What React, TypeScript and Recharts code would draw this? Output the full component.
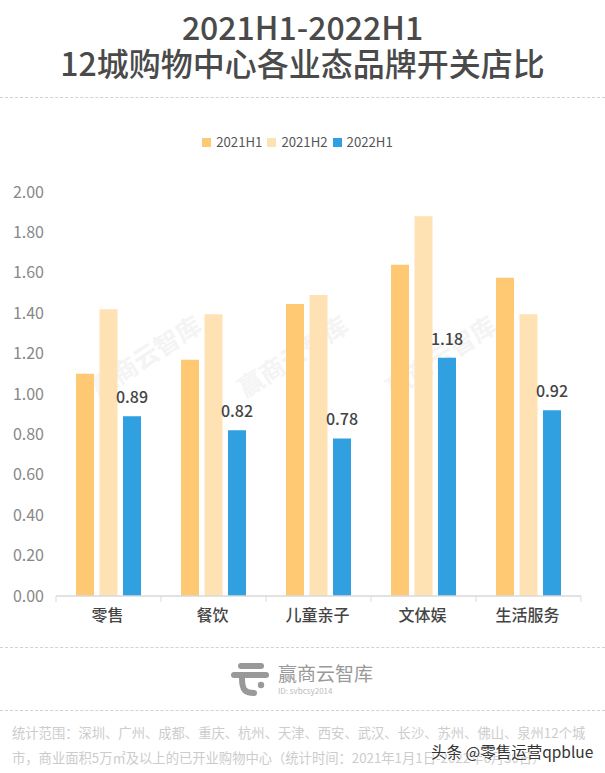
import React from 'react';
import { BarChart, Bar, XAxis, YAxis, Legend, LabelList } from 'recharts';

const categories = ['零售', '餐饮', '儿童亲子', '文体娱', '生活服务'];
const h1_2021 = [1.1, 1.17, 1.445, 1.64, 1.575];
const h2_2021 = [1.42, 1.395, 1.49, 1.88, 1.395];
const h1_2022 = [0.89, 0.82, 0.78, 1.18, 0.92];
const yTicks = [0, 0.2, 0.4, 0.6, 0.8, 1, 1.2, 1.4, 1.6, 1.8, 2];
const watermarks = [145, 292, 440];
const footLine1 = '统计范围\uFF1A深圳、广州、成都、重庆、杭州、天津、西安、武汉、长沙、苏州、佛山、泉州12个城';
const footLine2 = '市\uFF0C商业面积5万㎡及以上的已开业购物中心\uFF08统计时间\uFF1A2021年1月1日-2022年6月30日\uFF09';

const data = categories.map((name, i) => ({
  name,
  a: h1_2021[i],
  b: h2_2021[i],
  c: h1_2022[i],
}));

const font = '"Noto Sans CJK SC", "Noto Sans", sans-serif';
const bandWidth = 105;

const dashed = (top: number): React.CSSProperties => ({
  position: 'absolute',
  left: 0,
  top,
  width: 605,
  borderTop: '1px dashed #d2d2d2',
});

const text = (left: number, top: number, size: number, color: string): React.CSSProperties => ({
  position: 'absolute',
  left,
  top,
  fontSize: size,
  color,
  lineHeight: 1,
  whiteSpace: 'nowrap',
});

const LegendRow = ({ payload }: any) => (
  <div style={{ display: 'flex', justifyContent: 'center', gap: 5, fontSize: 13.2, lineHeight: '18px', color: '#555' }}>
    {(payload || []).map((p: any) => (
      <div key={p.value} style={{ display: 'flex', alignItems: 'center' }}>
        <span style={{ width: 9, height: 9, background: p.color, marginRight: 5 }} />
        {p.value}
      </div>
    ))}
  </div>
);

// ticks sit on the category boundaries, labels in the middle
const CategoryTick = ({ x, y, payload, index }: any) => (
  <g>
    <line x1={x - bandWidth / 2} x2={x - bandWidth / 2} y1={y - 8} y2={y - 2} stroke="#d9d9d9" />
    {index === categories.length - 1 && (
      <line x1={x + bandWidth / 2} x2={x + bandWidth / 2} y1={y - 8} y2={y - 2} stroke="#d9d9d9" />
    )}
    <text x={x - 1} y={y + 17} textAnchor="middle" fontSize={16} fontWeight={500} fill="#444">
      {payload.value}
    </text>
  </g>
);

export default function App() {
  return (
    <div style={{ position: 'absolute', left: 0, top: 0, width: 605, height: 773, overflow: 'hidden', fontFamily: font, background: '#fff' }}>
      <div style={{ position: 'absolute', left: 0, top: 8, width: 605, textAlign: 'center', fontSize: 32, fontWeight: 500, lineHeight: '36px', color: '#4a4a4a' }}>
        <div>2021H1-2022H1</div>
        <div>12城购物中心各业态品牌开关店比</div>
      </div>
      <div style={dashed(97)} />

      {watermarks.map((x) => (
        <div
          key={x}
          style={{
            position: 'absolute',
            left: x - 70,
            top: 340,
            width: 140,
            textAlign: 'center',
            fontSize: 25,
            fontWeight: 700,
            lineHeight: '30px',
            color: '#f4f4f4',
            transform: 'rotate(-33deg)',
            whiteSpace: 'nowrap',
          }}
        >
          赢商云智库
        </div>
      ))}

      <div style={{ position: 'absolute', left: 0, top: 0 }}>
        <BarChart
          width={605}
          height={773}
          data={data}
          margin={{ top: 174, right: 24, bottom: 137, left: 0 }}
          barSize={18}
          barGap={5.5}
        >
          <XAxis
            dataKey="name"
            axisLine={{ stroke: '#d9d9d9', strokeWidth: 1.5 }}
            tickLine={false}
            interval={0}
            tick={<CategoryTick />}
            height={40}
          />
          <YAxis
            width={56}
            domain={[0, 2]}
            ticks={yTicks}
            tickFormatter={(v: number) => v.toFixed(2)}
            axisLine={false}
            tickLine={false}
            tickSize={0}
            tickMargin={12}
            tick={{ fontSize: 16, fill: '#888' }}
          />
          <Legend
            verticalAlign="top"
            align="center"
            content={<LegendRow />}
            wrapperStyle={{ top: 133, left: -5, width: 605 }}
          />
          <Bar dataKey="a" name="2021H1" fill="#ffc873" isAnimationActive={false} />
          <Bar dataKey="b" name="2021H2" fill="#fee2b3" isAnimationActive={false} />
          <Bar dataKey="c" name="2022H1" fill="#30a0e0" isAnimationActive={false}>
            <LabelList
              dataKey="c"
              position="top"
              offset={13}
              formatter={(v: number) => v.toFixed(2)}
              style={{ fontSize: 16, fontWeight: 500, fill: '#444' }}
            />
          </Bar>
        </BarChart>
      </div>

      <div style={dashed(647)} />
      <svg style={{ position: 'absolute', left: 230, top: 660 }} width={40} height={38}>
        <g stroke="#999" strokeLinecap="round" fill="none">
          <path d="M11 6 H31" strokeWidth={6} />
          <path d="M4 15 H36" strokeWidth={6} />
          <path d="M12 18 C12 30 15 33 24 33" strokeWidth={6} />
        </g>
        <circle cx={31} cy={25} r={3.2} fill="#999" />
      </svg>
      <div style={text(278, 663, 19, '#999')}>赢商云智库</div>
      <div style={text(278, 687, 8, '#bbb')}>ID: svbcsy2014</div>
      <div style={dashed(710)} />

      <div style={text(12, 726, 13.3, '#ccc')}>{footLine1}</div>
      <div style={text(12, 751, 13.3, '#ccc')}>{footLine2}</div>
      <div
        style={{
          ...text(431, 744, 15.5, '#333'),
          textShadow: '0 0 2px #fff, 0 0 2px #fff, 0 0 2px #fff',
        }}
      >
        头条 @零售运营qpblue
      </div>
    </div>
  );
}
